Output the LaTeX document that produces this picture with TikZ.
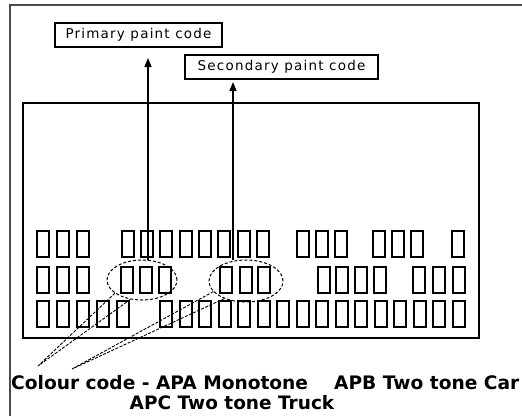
\documentclass[tikz,border=0pt]{standalone}
\usepackage{fontspec}
\setmainfont{DejaVu Sans}
\usetikzlibrary{arrows.meta,shapes.geometric}

\tikzset{
  frame/.style={line width=2pt,draw=black!70},
  plate/.style={line width=1.5pt},
  cell/.style={draw,line width=1.1pt,minimum width=12pt,minimum height=26pt,inner sep=0pt},
  tag/.style={draw,line width=1.3pt,minimum height=24pt,inner sep=0pt,
    font=\fontsize{13.5}{15}\selectfont\addfontfeature{LetterSpace=9}},
  ring/.style={ellipse,draw,dash pattern=on 3pt off 2pt,line width=1pt,inner sep=0pt},
  pointer/.style={line width=1.5pt,-{Triangle[width=7pt,length=9pt]}},
  guide/.style={dash pattern=on 3pt off 1.5pt,line width=0.9pt},
  legend/.style={font=\fontsize{18.5}{20}\selectfont\bfseries,inner sep=0pt}
}

\begin{document}
\begin{tikzpicture}[x=1pt,y=-1pt]
\useasboundingbox (0,0) rectangle (522,416);
\draw[frame] (10,416)--(10,5)--(522,5);
\draw[plate] (23,103) rectangle (479,338);

\node[tag,minimum width=167pt] (primary) at (138.5,35) {Primary paint code};
\node[tag,minimum width=193pt] (secondary) at (281.5,67) {Secondary paint code};

\foreach \x in {37,57,77,122,141,160,180,199,218,238,257,297,316,335,373,392,411,452}
  \node[cell] (top-\x) at (\x+6,244) {};
\foreach \x in {37,57,77,121,140,159,220,240,258,318,336,355,374,413,433,453}
  \node[cell] (mid-\x) at (\x+6,280) {};
\foreach \x in {37,57,77,97,117,160,180,199,219,238,258,277,297,316,336,355,375,394,414,433,453}
  \node[cell] (low-\x) at (\x+6,314) {};

\node[ring,minimum width=70pt,minimum height=40pt] (ringA) at (142,280) {};
\node[ring,minimum width=74pt,minimum height=42pt] (ringB) at (246,281) {};

\coordinate (tipA) at (148,58);
\coordinate (tipB) at (233,82);
\draw[pointer] (ringA.north -| tipA) -- (tipA);
\draw[pointer] (ringB.north -| tipB) -- (tipB);

\coordinate (footA) at (38,366);
\coordinate (footB) at (72,369);
\draw[guide] (ringA.206) -- (footA) (ringA.239) -- (footA);
\draw[guide] (ringB.198) -- (footB) (ringB.219) -- (footB);

\node[legend,anchor=base west] (legend) at (11,389)
  {\fontsize{18.6}{21}\selectfont Colour code - APA Monotone\hspace{1.4em}APB Two tone Car};
\node[legend,anchor=base] (legendb) at (232,409) {APC Two tone Truck};
\end{tikzpicture}
\end{document}
